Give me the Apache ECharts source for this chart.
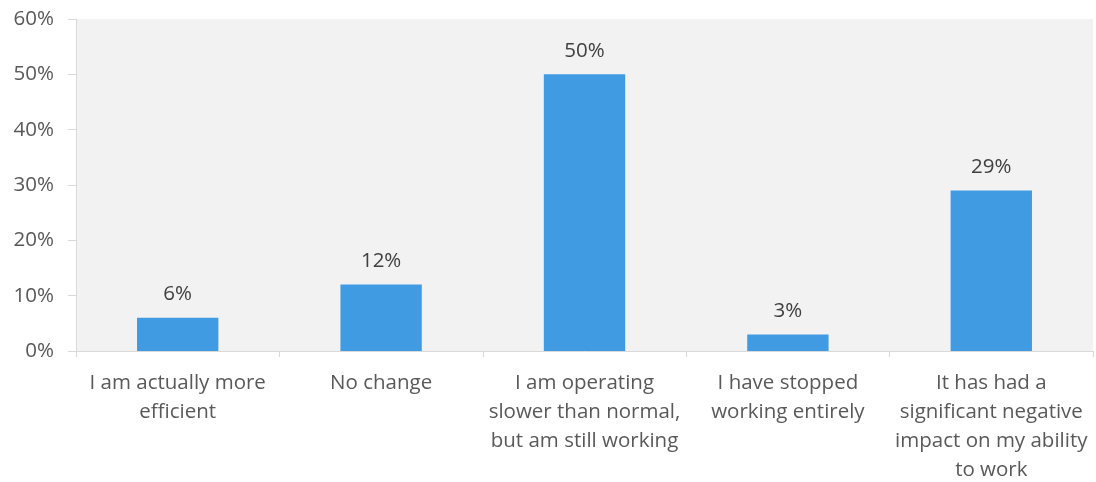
<!DOCTYPE html>
<html>
<head>
<meta charset="utf-8">
<script src="https://cdn.jsdelivr.net/npm/echarts@6/dist/echarts.min.js"></script>
<style>
  html, body { margin: 0; padding: 0; background: #ffffff; }
  #chart { width: 1096px; height: 482px; }
</style>
</head>
<body>
<div id="chart"></div>
<script>
// Survey answers (line breaks follow the wrapped axis labels)
const categories = [
  'I am actually more\nefficient',
  'No change',
  'I am operating\nslower than normal,\nbut am still working',
  'I have stopped\nworking entirely',
  'It has had a\nsignificant negative\nimpact on my ability\nto work'
];
// Share of respondents, percent
const shares = [6, 12, 50, 3, 29];
// Value axis range in percent
const yMin = 0;
const yMax = 60;
const yStep = 10;

const FONT = '"Open Sans", "Noto Sans", sans-serif';

const chart = echarts.init(document.getElementById('chart'), null, { renderer: 'canvas' });
chart.setOption({
  animation: false,
  backgroundColor: '#ffffff',
  grid: {
    left: 76, right: 3, top: 19, bottom: 131,
    outerBoundsMode: 'none',
    containLabel: false,
    show: true, backgroundColor: '#f2f2f2', borderWidth: 0
  },
  xAxis: {
    type: 'category',
    data: categories,
    axisLine: { show: true, lineStyle: { color: '#d9d9d9', width: 1 } },
    axisTick: { show: true, alignWithLabel: false, length: 6, lineStyle: { color: '#d9d9d9' } },
    axisLabel: {
      interval: 0, color: '#595959', fontFamily: FONT, fontSize: 20.5,
      lineHeight: 29, margin: 18, align: 'center'
    },
    splitLine: { show: false }
  },
  yAxis: {
    type: 'value',
    min: yMin, max: yMax, interval: yStep,
    axisLine: { show: true, lineStyle: { color: '#d9d9d9', width: 1 } },
    axisTick: { show: true, length: 8, lineStyle: { color: '#d9d9d9' } },
    axisLabel: { formatter: '{value}%', color: '#595959', fontFamily: FONT, fontSize: 20.5, margin: 22 },
    splitLine: { show: false }
  },
  series: [{
    type: 'bar',
    data: shares,
    barWidth: '40%',
    itemStyle: { color: '#419be3' },
    label: {
      show: true, position: 'top', distance: 13,
      formatter: p => p.value + '%',
      color: '#404040', fontFamily: FONT, fontSize: 20.5
    }
  }]
});
</script>
</body>
</html>
